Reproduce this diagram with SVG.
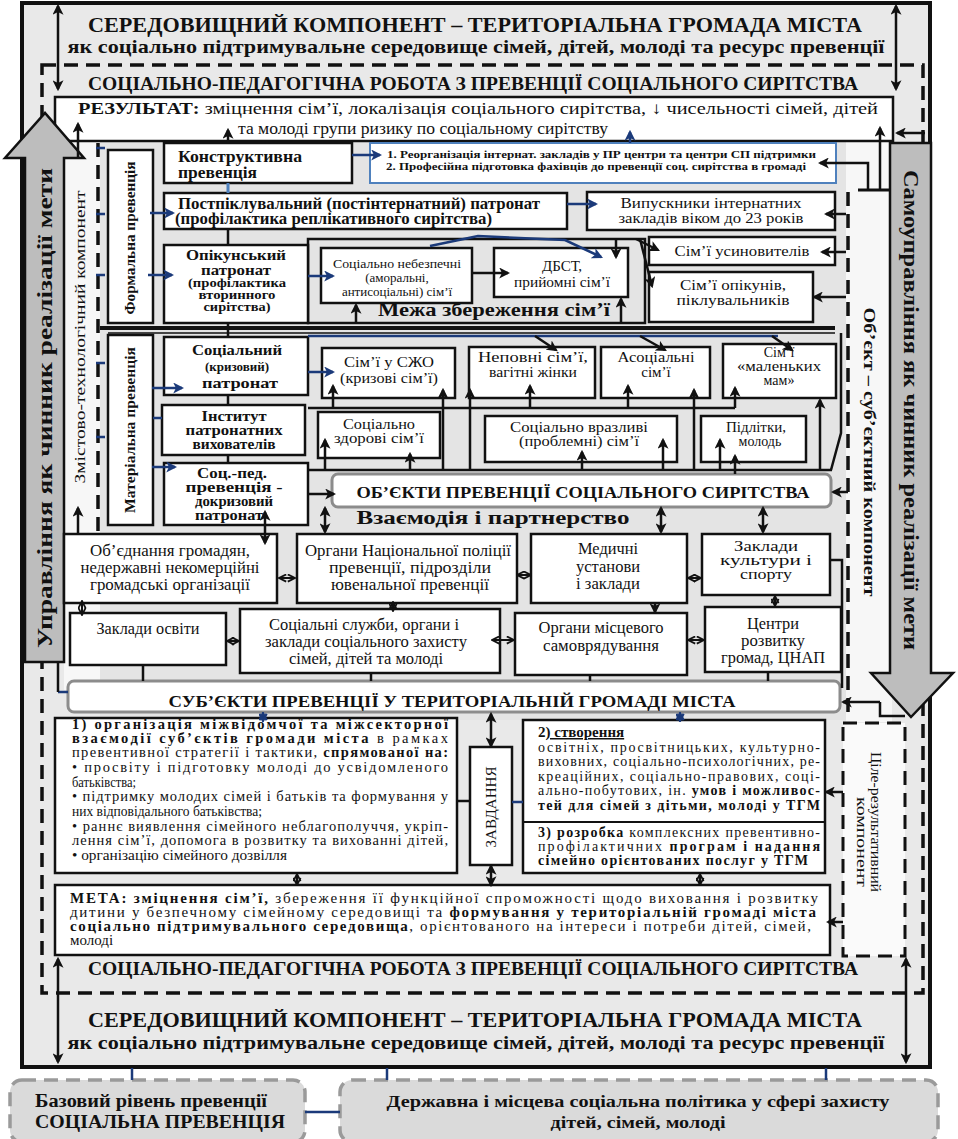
<svg xmlns="http://www.w3.org/2000/svg" width="958" height="1139" viewBox="0 0 958 1139" font-family="'Liberation Serif','Times New Roman','DejaVu Serif',serif">
<defs>
<style>
text{font-family:'Liberation Serif','Times New Roman','DejaVu Serif',serif}
.s{fill:#111}
.b{font-weight:bold}
.m{text-anchor:middle}
.bx{fill:#fff;stroke:#111;stroke-width:2.5}
.k{stroke:#111;stroke-width:2.5;fill:none}
.ka{stroke:#111;stroke-width:2.5;fill:none;marker-end:url(#ah)}
.kd{stroke:#111;stroke-width:2.5;fill:none;marker-start:url(#ah);marker-end:url(#ah)}
.ko{stroke:#111;stroke-width:2;fill:none;marker-start:url(#ao);marker-end:url(#ao)}
.no{stroke:#1b3a7a;stroke-width:2;fill:none;marker-start:url(#ano);marker-end:url(#ano)}
.nv{stroke:#1b3a7a;stroke-width:2.5;fill:none;marker-end:url(#an)}
.nl{stroke:#1b3a7a;stroke-width:2.5;fill:none}
.dash{stroke:#111;stroke-width:3.5;fill:none;stroke-dasharray:14 8}
.gr{fill:#bdbdbd;stroke:#111;stroke-width:2.5}
.rb{fill:#fff;stroke:#8c8c8c;stroke-width:3}
.gb{fill:#dadada;stroke:#9a9a9a;stroke-width:3.5;stroke-dasharray:14 8}
</style>
<marker id="ah" viewBox="0 0 10 10" refX="8" refY="5" markerWidth="4.4" markerHeight="4.4" orient="auto-start-reverse"><path d="M0,0 L10,5 L0,10 L2.5,5z" fill="#111"/></marker>
<marker id="an" viewBox="0 0 10 10" refX="8" refY="5" markerWidth="4.4" markerHeight="4.4" orient="auto-start-reverse"><path d="M0,0 L10,5 L0,10 L2.5,5z" fill="#1b3a7a"/></marker>
<marker id="ao" viewBox="0 0 10 10" refX="9" refY="5" markerWidth="4.5" markerHeight="4.5" orient="auto-start-reverse"><path d="M1,1 L9,5 L1,9" fill="none" stroke="#111" stroke-width="2"/></marker>
<marker id="ano" viewBox="0 0 10 10" refX="9" refY="5" markerWidth="4.5" markerHeight="4.5" orient="auto-start-reverse"><path d="M1,1 L9,5 L1,9" fill="none" stroke="#1b3a7a" stroke-width="2.5"/></marker>
</defs>
<rect width="958" height="1139" fill="#fff"/>

<g id="frame">
<rect x="22" y="3" width="908" height="1064" fill="#e9e9e9" stroke="#111" stroke-width="4"/>
<rect x="64" y="142" width="36" height="548" fill="#f7f7f7"/>
<rect x="100" y="142" width="746" height="578" fill="#e4e4e4"/>
<rect x="846" y="142" width="46" height="580" fill="#f7f7f7"/>
<rect x="42" y="65" width="881" height="928" class="dash"/>
</g>

<g id="env-top">
<text x="475" y="32" class="s b m" font-size="21" textLength="774" lengthAdjust="spacingAndGlyphs">СЕРЕДОВИЩНИЙ КОМПОНЕНТ – ТЕРИТОРІАЛЬНА ГРОМАДА МІСТА</text>
<text x="476" y="53" class="s b m" font-size="19" textLength="817" lengthAdjust="spacingAndGlyphs">як соціально підтримувальне середовище сімей, дітей, молоді та ресурс превенції</text>
<text x="473" y="90" class="s b m" font-size="18" textLength="770" lengthAdjust="spacingAndGlyphs">СОЦІАЛЬНО-ПЕДАГОГІЧНА РОБОТА З ПРЕВЕНЦІЇ СОЦІАЛЬНОГО СИРІТСТВА</text>
</g>

<g id="result">
<rect x="55" y="97" width="838" height="44" class="bx"/>
<text x="78" y="114" class="s" font-size="17" textLength="800" lengthAdjust="spacingAndGlyphs"><tspan class="b">РЕЗУЛЬТАТ:</tspan> зміцнення сім’ї, локалізація соціального сирітства, ↓ чисельності сімей, дітей</text>
<text x="238" y="134" class="s" font-size="17" textLength="370" lengthAdjust="spacingAndGlyphs">та молоді групи ризику по соціальному сирітству</text>
</g>

<g id="arrow-management">
<polygon points="25,158 5,158 45,113 84,158 64,158 64,662 25,662" class="gr"/>
<text transform="translate(52,408) rotate(-90)" class="s b m" font-size="20" textLength="480" lengthAdjust="spacingAndGlyphs">Управління як чинник реалізації мети</text>
</g>

<g id="arrow-selfgov">
<polygon points="890,143 931,143 931,673 953,673 911,717 871,673 890,673" class="gr"/>
<text transform="translate(904,410) rotate(90)" class="s b m" font-size="20" textLength="480" lengthAdjust="spacingAndGlyphs">Самоуправління як чинник реалізації мети</text>
</g>

<g id="content-component">
<text transform="translate(85,337) rotate(-90)" class="s m" font-size="15" textLength="293" lengthAdjust="spacingAndGlyphs">Змістово-технологічний компонент</text>
</g>

<g id="object-subject-component">
<text transform="translate(864,452) rotate(90)" class="s b m" font-size="17" textLength="289" lengthAdjust="spacingAndGlyphs">Об’єкт – суб’єктний компонент</text>
</g>

<g id="formal">
<rect x="108" y="150" width="45" height="173" class="bx"/>
<text transform="translate(135,238) rotate(-90)" class="s b m" font-size="14" textLength="153" lengthAdjust="spacingAndGlyphs">Формальна превенція</text>
</g>

<g id="material">
<rect x="108" y="335" width="45" height="190" class="bx"/>
<text transform="translate(135,430) rotate(-90)" class="s b m" font-size="14" textLength="166" lengthAdjust="spacingAndGlyphs">Матеріальна превенція</text>
</g>

<g id="constructive">
<rect x="164" y="143" width="188" height="40" class="bx"/>
<text x="178" y="162" class="s b" font-size="16" textLength="124" lengthAdjust="spacingAndGlyphs">Конструктивна</text>
<text x="178" y="178" class="s b" font-size="16" textLength="79" lengthAdjust="spacingAndGlyphs">превенція</text>
</g>

<g id="reorg">
<rect x="370" y="143" width="466" height="40" fill="#fff" stroke="#4f81bd" stroke-width="2"/>
<text x="387" y="158" class="s b" font-size="10" textLength="429" lengthAdjust="spacingAndGlyphs">1. Реорганізація інтернат. закладів у ПР центри та центри СП підтримки</text>
<text x="386" y="170" class="s b" font-size="10" textLength="420" lengthAdjust="spacingAndGlyphs">2. Професійна підготовка фахівців до превенції соц. сирітства в громаді</text>
</g>

<g id="postcare">
<rect x="164" y="193" width="403" height="36" class="bx"/>
<text x="178" y="209" class="s b" font-size="16" textLength="362" lengthAdjust="spacingAndGlyphs">Постпіклувальний (постінтернатний) патронат</text>
<text x="175" y="224" class="s b" font-size="16" textLength="317" lengthAdjust="spacingAndGlyphs">(профілактика реплікативного сирітства)</text>
</g>

<g id="graduates">
<rect x="587" y="192" width="248" height="38" class="bx"/>
<text x="711" y="208" class="s m" font-size="15" textLength="181" lengthAdjust="spacingAndGlyphs">Випускники інтернатних</text>
<text x="711" y="223" class="s m" font-size="15" textLength="185" lengthAdjust="spacingAndGlyphs">закладів віком до 23 років</text>
</g>

<g id="boundary">
<rect x="308" y="239" width="337" height="84" fill="none" stroke="#111" stroke-width="2.5"/>
<text x="494" y="316" class="s b m" font-size="18" textLength="232" lengthAdjust="spacingAndGlyphs">Межа збереження сім’ї</text>
</g>

<g id="guardian-patronage">
<rect x="164" y="245" width="144" height="78" class="bx"/>
<text x="236" y="260" class="s b m" font-size="15" textLength="100" lengthAdjust="spacingAndGlyphs">Опікунський</text>
<text x="236" y="275" class="s b m" font-size="15" textLength="70" lengthAdjust="spacingAndGlyphs">патронат</text>
<text x="237" y="287" class="s b m" font-size="12" textLength="98" lengthAdjust="spacingAndGlyphs">(профілактика</text>
<text x="237" y="299" class="s b m" font-size="12" textLength="77" lengthAdjust="spacingAndGlyphs">вторинного</text>
<text x="237" y="311" class="s b m" font-size="12" textLength="67" lengthAdjust="spacingAndGlyphs">сирітства)</text>
</g>

<g id="dangerous">
<rect x="321" y="248" width="151" height="55" class="bx"/>
<text x="397" y="268" class="s m" font-size="13" textLength="128" lengthAdjust="spacingAndGlyphs">Соціально небезпечні</text>
<text x="397" y="282" class="s m" font-size="13">(аморальні,</text>
<text x="397" y="296" class="s m" font-size="13">антисоціальні) сім’ї</text>
</g>

<g id="dbst">
<rect x="494" y="248" width="134" height="49" class="bx"/>
<text x="562" y="271" class="s m" font-size="15">ДБСТ,</text>
<text x="562" y="287" class="s m" font-size="15" textLength="96" lengthAdjust="spacingAndGlyphs">прийомні сім’ї</text>
</g>

<g id="adoptive">
<rect x="649" y="237" width="186" height="28" class="bx"/>
<text x="742" y="256" class="s m" font-size="15" textLength="135" lengthAdjust="spacingAndGlyphs">Сім’ї усиновителів</text>
</g>

<g id="guardians">
<rect x="649" y="272" width="164" height="50" class="bx"/>
<text x="733" y="290" class="s m" font-size="15" textLength="106" lengthAdjust="spacingAndGlyphs">Сім’ї опікунів,</text>
<text x="733" y="305" class="s m" font-size="15" textLength="113" lengthAdjust="spacingAndGlyphs">піклувальників</text>
</g>

<g id="crisis-patronage">
<rect x="164" y="337" width="144" height="58" class="bx"/>
<text x="237" y="355" class="s b m" font-size="15" textLength="90" lengthAdjust="spacingAndGlyphs">Соціальний</text>
<text x="237" y="371" class="s b m" font-size="13">(кризовий)</text>
<text x="240" y="388" class="s b m" font-size="15" textLength="76" lengthAdjust="spacingAndGlyphs">патронат</text>
</g>

<g id="foster-educators">
<rect x="162" y="405" width="143" height="50" class="bx"/>
<text x="234" y="421" class="s b m" font-size="14" textLength="65" lengthAdjust="spacingAndGlyphs">Інститут</text>
<text x="234" y="435" class="s b m" font-size="14" textLength="97" lengthAdjust="spacingAndGlyphs">патронатних</text>
<text x="234" y="449" class="s b m" font-size="14" textLength="83" lengthAdjust="spacingAndGlyphs">вихователів</text>
</g>

<g id="precrisis">
<rect x="164" y="463" width="144" height="62" class="bx"/>
<text x="232" y="478" class="s b m" font-size="14" textLength="70" lengthAdjust="spacingAndGlyphs">Соц.-пед.</text>
<text x="234" y="492" class="s b m" font-size="14" textLength="97" lengthAdjust="spacingAndGlyphs">превенція -</text>
<text x="234" y="506" class="s b m" font-size="14" textLength="78" lengthAdjust="spacingAndGlyphs">докризовий</text>
<text x="229" y="520" class="s b m" font-size="14" textLength="68" lengthAdjust="spacingAndGlyphs">патронат</text>
</g>

<g id="szho">
<rect x="322" y="348" width="133" height="50" class="bx"/>
<text x="389" y="367" class="s m" font-size="15" textLength="90" lengthAdjust="spacingAndGlyphs">Сім’ї у СЖО</text>
<text x="389" y="383" class="s m" font-size="15" textLength="98" lengthAdjust="spacingAndGlyphs">(кризові сім’ї)</text>
</g>

<g id="incomplete">
<rect x="469" y="347" width="126" height="51" class="bx"/>
<text x="533" y="362" class="s m" font-size="15" textLength="110" lengthAdjust="spacingAndGlyphs">Неповні сім’ї,</text>
<text x="533" y="377" class="s m" font-size="15" textLength="88" lengthAdjust="spacingAndGlyphs">вагітні жінки</text>
</g>

<g id="asocial">
<rect x="601" y="347" width="109" height="51" class="bx"/>
<text x="656" y="362" class="s m" font-size="15" textLength="77" lengthAdjust="spacingAndGlyphs">Асоціальні</text>
<text x="656" y="377" class="s m" font-size="15">сім’ї</text>
</g>

<g id="young-moms">
<rect x="723" y="344" width="113" height="54" class="bx"/>
<text x="779" y="357" class="s m" font-size="14">Сім’ї</text>
<text x="779" y="371" class="s m" font-size="14" textLength="84" lengthAdjust="spacingAndGlyphs">«маленьких</text>
<text x="779" y="385" class="s m" font-size="14">мам»</text>
</g>

<g id="healthy">
<rect x="318" y="412" width="122" height="46" class="bx"/>
<text x="379" y="429" class="s m" font-size="14" textLength="72" lengthAdjust="spacingAndGlyphs">Соціально</text>
<text x="379" y="443" class="s m" font-size="14" textLength="90" lengthAdjust="spacingAndGlyphs">здорові сім’ї</text>
</g>

<g id="vulnerable">
<rect x="485" y="416" width="192" height="46" class="bx"/>
<text x="579" y="432" class="s m" font-size="14" textLength="138" lengthAdjust="spacingAndGlyphs">Соціально вразливі</text>
<text x="579" y="446" class="s m" font-size="14" textLength="120" lengthAdjust="spacingAndGlyphs">(проблемні) сім’ї</text>
</g>

<g id="teens">
<rect x="701" y="416" width="105" height="46" class="bx"/>
<text x="756" y="432" class="s m" font-size="14" textLength="60" lengthAdjust="spacingAndGlyphs">Підлітки,</text>
<text x="760" y="446" class="s m" font-size="14">молодь</text>
</g>

<g id="objects">
<rect x="332" y="474" width="499" height="33" rx="6" class="rb"/>
<text x="583" y="498" class="s b m" font-size="16" textLength="453" lengthAdjust="spacingAndGlyphs">ОБ’ЄКТИ ПРЕВЕНЦІЇ СОЦІАЛЬНОГО СИРІТСТВА</text>
</g>

<g id="interaction-label">
<text x="493" y="524" class="s b m" font-size="18" textLength="273" lengthAdjust="spacingAndGlyphs">Взаємодія і партнерство</text>
</g>

<g id="citizens">
<rect x="64" y="534" width="213" height="69" class="bx"/>
<text x="170" y="556" class="s m" font-size="16" textLength="160" lengthAdjust="spacingAndGlyphs">Об’єднання громадян,</text>
<text x="170" y="573" class="s m" font-size="16" textLength="179" lengthAdjust="spacingAndGlyphs">недержавні некомерційні</text>
<text x="170" y="590" class="s m" font-size="16" textLength="160" lengthAdjust="spacingAndGlyphs">громадські організації</text>
</g>

<g id="police">
<rect x="297" y="534" width="220" height="69" class="bx"/>
<text x="408" y="556" class="s m" font-size="16" textLength="206" lengthAdjust="spacingAndGlyphs">Органи Національної поліції</text>
<text x="410" y="573" class="s m" font-size="16" textLength="162" lengthAdjust="spacingAndGlyphs">превенції, підрозділи</text>
<text x="410" y="590" class="s m" font-size="16" textLength="158" lengthAdjust="spacingAndGlyphs">ювенальної превенції</text>
</g>

<g id="medical">
<rect x="531" y="534" width="156" height="69" class="bx"/>
<text x="608" y="554" class="s m" font-size="16" textLength="60" lengthAdjust="spacingAndGlyphs">Медичні</text>
<text x="608" y="572" class="s m" font-size="16" textLength="64" lengthAdjust="spacingAndGlyphs">установи</text>
<text x="608" y="589" class="s m" font-size="16" textLength="64" lengthAdjust="spacingAndGlyphs">і заклади</text>
</g>

<g id="culture">
<rect x="702" y="534" width="128" height="61" class="bx"/>
<text x="766" y="551" class="s m" font-size="15" textLength="64" lengthAdjust="spacingAndGlyphs">Заклади</text>
<text x="766" y="565" class="s m" font-size="15" textLength="92" lengthAdjust="spacingAndGlyphs">культури і</text>
<text x="766" y="579" class="s m" font-size="15" textLength="52" lengthAdjust="spacingAndGlyphs">спорту</text>
</g>

<g id="education">
<rect x="70" y="613" width="156" height="52" class="bx"/>
<text x="148" y="634" class="s m" font-size="16" textLength="103" lengthAdjust="spacingAndGlyphs">Заклади освіти</text>
</g>

<g id="social-services">
<rect x="240" y="609" width="260" height="64" class="bx"/>
<text x="364" y="630" class="s m" font-size="16" textLength="190" lengthAdjust="spacingAndGlyphs">Соціальні служби, органи і</text>
<text x="366" y="647" class="s m" font-size="16" textLength="202" lengthAdjust="spacingAndGlyphs">заклади соціального захисту</text>
<text x="366" y="664" class="s m" font-size="16" textLength="154" lengthAdjust="spacingAndGlyphs">сімей, дітей та молоді</text>
</g>

<g id="local-gov">
<rect x="515" y="613" width="172" height="62" class="bx"/>
<text x="601" y="633" class="s m" font-size="16" textLength="125" lengthAdjust="spacingAndGlyphs">Органи місцевого</text>
<text x="601" y="651" class="s m" font-size="16" textLength="116" lengthAdjust="spacingAndGlyphs">самоврядування</text>
</g>

<g id="centers">
<rect x="705" y="607" width="136" height="65" class="bx"/>
<text x="773" y="629" class="s m" font-size="16" textLength="52" lengthAdjust="spacingAndGlyphs">Центри</text>
<text x="773" y="646" class="s m" font-size="16" textLength="64" lengthAdjust="spacingAndGlyphs">розвитку</text>
<text x="773" y="663" class="s m" font-size="16" textLength="104" lengthAdjust="spacingAndGlyphs">громад, ЦНАП</text>
</g>

<g id="subjects">
<rect x="68" y="681" width="772" height="31" rx="6" class="rb"/>
<text x="452" y="707" class="s b m" font-size="17" textLength="567" lengthAdjust="spacingAndGlyphs">СУБ’ЄКТИ ПРЕВЕНЦІЇ У ТЕРИТОРІАЛЬНІЙ ГРОМАДІ МІСТА</text>
</g>

<g id="task-1">
<rect x="55" y="718" width="402" height="155" class="bx"/>
<g class="s" font-size="14.5">
<text x="72" y="729" class="b" textLength="376" lengthAdjust="spacing">1) організація міжвідомчої та міжсекторної</text>
<text x="72" y="743" textLength="376" lengthAdjust="spacing"><tspan class="b">взаємодії суб’єктів громади міста</tspan> в рамках</text>
<text x="72" y="757" textLength="376" lengthAdjust="spacing">превентивної стратегії і тактики, <tspan class="b">спрямованої на:</tspan></text>
<text x="72" y="772" textLength="376" lengthAdjust="spacing">• просвіту і підготовку молоді до усвідомленого</text>
<text x="72" y="787" textLength="64" lengthAdjust="spacingAndGlyphs">батьківства;</text>
<text x="72" y="801" textLength="376" lengthAdjust="spacing">• підтримку молодих сімей і батьків та формування у</text>
<text x="72" y="816" textLength="190" lengthAdjust="spacingAndGlyphs">них відповідального батьківства;</text>
<text x="72" y="831" textLength="376" lengthAdjust="spacing">• раннє виявлення сімейного неблагополуччя, укріп-</text>
<text x="72" y="845" textLength="376" lengthAdjust="spacing">лення сім’ї, допомога в розвитку та вихованні дітей,</text>
<text x="72" y="860" textLength="215" lengthAdjust="spacingAndGlyphs">• організацію сімейного дозвілля</text>
</g>
</g>

<g id="tasks-label">
<rect x="470" y="747" width="42" height="118" class="bx"/>
<text transform="translate(496,807) rotate(-90)" class="s m" font-size="15" textLength="81" lengthAdjust="spacingAndGlyphs">ЗАВДАННЯ</text>
</g>

<g id="task-2-3">
<rect x="523" y="720" width="302" height="153" class="bx"/>
<line x1="523" y1="822" x2="825" y2="822" stroke="#111" stroke-width="2"/>
<g class="s" font-size="14">
<text x="538" y="737" class="b" font-size="15">2<tspan text-decoration="underline">) створення</tspan></text>
<text x="538" y="752" textLength="282" lengthAdjust="spacing">освітніх, просвітницьких, культурно-</text>
<text x="538" y="766" textLength="282" lengthAdjust="spacing">виховних, соціально-психологічних, ре-</text>
<text x="538" y="781" textLength="282" lengthAdjust="spacing">креаційних, соціально-правових, соці-</text>
<text x="538" y="795" textLength="282" lengthAdjust="spacing">ально-побутових, ін. <tspan class="b">умов і можливос-</tspan></text>
<text x="538" y="810" class="b" textLength="282" lengthAdjust="spacing">тей для сімей з дітьми, молоді у ТГМ</text>
<text x="538" y="837" textLength="282" lengthAdjust="spacing"><tspan class="b">3) розробка</tspan> комплексних превентивно-</text>
<text x="538" y="851" textLength="282" lengthAdjust="spacing">профілактичних <tspan class="b">програм і надання</tspan></text>
<text x="538" y="865" class="b" textLength="270" lengthAdjust="spacing">сімейно орієнтованих послуг у ТГМ</text>
</g>
</g>

<g id="goal-result-component">
<rect x="843" y="723" width="62" height="233" fill="#fafafa" stroke="#111" stroke-width="3" stroke-dasharray="14 8"/>
<text transform="translate(871,822) rotate(90)" class="s m" font-size="15" textLength="140" lengthAdjust="spacingAndGlyphs">Ціле-результативний</text>
<text transform="translate(857,842) rotate(90)" class="s m" font-size="15" textLength="90" lengthAdjust="spacingAndGlyphs">компонент</text>
</g>

<g id="goal">
<rect x="55" y="885" width="775" height="70" class="bx"/>
<g class="s" font-size="15">
<text x="70" y="903" textLength="748" lengthAdjust="spacing"><tspan class="b">МЕТА: зміцнення сім’ї,</tspan> збереження її функційної спроможності щодо виховання і розвитку</text>
<text x="70" y="917" textLength="746" lengthAdjust="spacing">дитини у безпечному сімейному середовищі та <tspan class="b">формування у територіальній громаді міста</tspan></text>
<text x="70" y="931" textLength="741" lengthAdjust="spacing"><tspan class="b">соціально підтримувального середовища</tspan>, орієнтованого на інтереси і потреби дітей, сімей,</text>
<text x="70" y="945">молоді</text>
</g>
</g>

<g id="env-bottom">
<text x="473" y="975" class="s b m" font-size="18" textLength="770" lengthAdjust="spacingAndGlyphs">СОЦІАЛЬНО-ПЕДАГОГІЧНА РОБОТА З ПРЕВЕНЦІЇ СОЦІАЛЬНОГО СИРІТСТВА</text>
<text x="475" y="1027" class="s b m" font-size="21" textLength="774" lengthAdjust="spacingAndGlyphs">СЕРЕДОВИЩНИЙ КОМПОНЕНТ – ТЕРИТОРІАЛЬНА ГРОМАДА МІСТА</text>
<text x="476" y="1049" class="s b m" font-size="19" textLength="817" lengthAdjust="spacingAndGlyphs">як соціально підтримувальне середовище сімей, дітей, молоді та ресурс превенції</text>
</g>

<g id="basic-level">
<rect x="10" y="1080" width="295" height="62" rx="12" class="gb"/>
<text x="151" y="1107" class="s b m" font-size="18" textLength="232" lengthAdjust="spacingAndGlyphs">Базовий рівень превенції</text>
<text x="160" y="1128" class="s b m" font-size="18" textLength="250" lengthAdjust="spacingAndGlyphs">СОЦІАЛЬНА ПРЕВЕНЦІЯ</text>
</g>

<g id="policy">
<rect x="340" y="1080" width="598" height="62" rx="12" class="gb"/>
<text x="638" y="1107" class="s b m" font-size="17" textLength="503" lengthAdjust="spacingAndGlyphs">Державна і місцева соціальна політика у сфері захисту</text>
<text x="638" y="1128" class="s b m" font-size="17" textLength="175" lengthAdjust="spacingAndGlyphs">дітей, сімей, молоді</text>
</g>

<g id="connectors">
<line x1="58" y1="6" x2="58" y2="89" class="kd"/>
<line x1="896" y1="6" x2="896" y2="89" class="kd"/>
<line x1="58" y1="959" x2="58" y2="1062" class="kd"/>
<line x1="906" y1="959" x2="906" y2="1062" class="kd"/>
<line x1="78" y1="158" x2="78" y2="124" class="ka"/>
<line x1="228" y1="143" x2="228" y2="130" class="ka"/>
<line x1="630" y1="143" x2="630" y2="132" class="nv"/>
<line x1="880" y1="190" x2="880" y2="128" class="ka"/>
<line x1="925" y1="133" x2="897" y2="133" class="ka"/>
<line x1="858" y1="190" x2="890" y2="190" stroke="#111" stroke-width="3"/>
<polyline points="868,190 868,163 820,163" class="ka"/>
<line x1="98" y1="143" x2="98" y2="533" class="dash"/>
<g class="nl" stroke-width="3">
<line x1="96" y1="148" x2="105" y2="148"/>
<line x1="96" y1="214" x2="105" y2="214"/>
<line x1="96" y1="275" x2="105" y2="275"/>
<line x1="96" y1="363" x2="105" y2="363"/>
<line x1="96" y1="437" x2="105" y2="437"/>
<line x1="153" y1="418" x2="162" y2="418"/>
<line x1="58" y1="692" x2="68" y2="692"/>
</g>
<line x1="58" y1="662" x2="58" y2="692" class="k"/>
<line x1="78" y1="534" x2="78" y2="508" class="ka"/>
<line x1="150" y1="213" x2="173" y2="213" class="nv"/>
<line x1="148" y1="275" x2="172" y2="275" class="nv"/>
<line x1="152" y1="388" x2="182" y2="388" class="nv"/>
<line x1="152" y1="467" x2="175" y2="467" class="nv"/>
<line x1="228" y1="183" x2="228" y2="193" stroke="#4f81bd" stroke-width="3"/>
<line x1="228" y1="229" x2="228" y2="245" class="k" stroke-width="4"/>
<line x1="228" y1="323" x2="228" y2="337" class="k" stroke-width="4"/>
<line x1="228" y1="395" x2="228" y2="405" class="k" stroke-width="4"/>
<line x1="228" y1="455" x2="228" y2="463" class="k" stroke-width="4"/>
<line x1="352" y1="155" x2="380" y2="155" class="nv"/>
<line x1="567" y1="204" x2="596" y2="204" class="nv"/>
<line x1="308" y1="276" x2="333" y2="276" class="nv"/>
<line x1="472" y1="273" x2="508" y2="273" class="ka"/>
<polyline points="430,246 478,236 565,240 601,257" class="nv"/>
<line x1="616" y1="239" x2="616" y2="257" class="ka"/>
<line x1="636" y1="239" x2="658" y2="250" class="ka"/>
<line x1="640" y1="239" x2="652" y2="286" class="ka"/>
<line x1="356" y1="323" x2="356" y2="305" class="ka"/>
<line x1="621" y1="323" x2="621" y2="299" class="ka"/>
<line x1="846" y1="214" x2="826" y2="214" class="ka"/>
<line x1="846" y1="252" x2="822" y2="252" class="ka"/>
<line x1="846" y1="297" x2="814" y2="297" class="ka"/>
<line x1="848" y1="192" x2="848" y2="720" class="dash"/>
<line x1="100" y1="328" x2="835" y2="328" stroke="#111" stroke-width="4"/>
<line x1="108" y1="333" x2="835" y2="333" stroke="#111" stroke-width="1.5"/>
<line x1="308" y1="336" x2="778" y2="336" class="nl" stroke-width="2"/>
<line x1="535" y1="336" x2="556" y2="350" class="ka"/>
<line x1="640" y1="336" x2="665" y2="350" class="ka"/>
<line x1="772" y1="336" x2="792" y2="350" class="ka"/>
<polyline points="841,333 841,433 831,470" class="k"/>
<line x1="308" y1="372" x2="333" y2="372" class="nv"/>
<line x1="308" y1="408" x2="735" y2="408" class="k"/>
<line x1="333" y1="408" x2="333" y2="386" class="ka"/>
<line x1="530" y1="408" x2="530" y2="386" class="ka"/>
<line x1="628" y1="408" x2="628" y2="386" class="ka"/>
<line x1="735" y1="408" x2="735" y2="388" class="ka"/>
<line x1="308" y1="470" x2="832" y2="470" class="k"/>
<line x1="325" y1="470" x2="325" y2="440" class="ka"/>
<line x1="410" y1="470" x2="410" y2="454" class="ka"/>
<line x1="443" y1="470" x2="443" y2="390" class="ka"/>
<line x1="470" y1="470" x2="470" y2="390" class="ka"/>
<line x1="582" y1="470" x2="582" y2="452" class="ka"/>
<line x1="663" y1="470" x2="663" y2="440" class="ka"/>
<line x1="694" y1="470" x2="694" y2="390" class="ka"/>
<line x1="720" y1="470" x2="720" y2="440" class="ka"/>
<line x1="735" y1="474" x2="735" y2="456" class="ka"/>
<line x1="820" y1="470" x2="820" y2="400" class="ka"/>
<line x1="308" y1="494" x2="334" y2="494" class="ka"/>
<line x1="848" y1="492" x2="833" y2="492" class="ka"/>
<line x1="265" y1="512" x2="265" y2="543" class="kd"/>
<line x1="325" y1="508" x2="325" y2="532" class="kd"/>
<line x1="661" y1="508" x2="661" y2="532" class="kd"/>
<line x1="763" y1="508" x2="763" y2="532" class="kd"/>
<line x1="279" y1="578" x2="295" y2="578" class="ko"/>
<line x1="82" y1="601" x2="82" y2="615" class="ko"/>
<line x1="393" y1="602" x2="393" y2="611" class="ko"/>
<line x1="517" y1="575" x2="531" y2="575" class="ko"/>
<line x1="688" y1="578" x2="701" y2="578" class="ko"/>
<line x1="655" y1="603" x2="655" y2="612" class="ka" stroke-width="2"/>
<line x1="775" y1="596" x2="775" y2="606" class="ko"/>
<line x1="227" y1="641" x2="239" y2="641" class="ko"/>
<line x1="492" y1="640" x2="514" y2="640" class="ko"/>
<line x1="688" y1="640" x2="704" y2="640" class="ko"/>
<polyline points="830,560 842,560 842,688" class="k"/>
<line x1="143" y1="665" x2="143" y2="681" class="k" stroke-width="3"/>
<line x1="371" y1="673" x2="371" y2="681" class="k" stroke-width="3"/>
<line x1="590" y1="675" x2="590" y2="681" class="k" stroke-width="3"/>
<line x1="768" y1="672" x2="768" y2="681" class="k" stroke-width="3"/>
<line x1="880" y1="702" x2="843" y2="702" class="ka"/>
<polyline points="880,702 880,716 905,716" class="k"/>
<line x1="263" y1="713" x2="263" y2="721" class="no"/>
<line x1="680" y1="713" x2="680" y2="721" class="no"/>
<line x1="491" y1="714" x2="491" y2="746" class="kd"/>
<line x1="491" y1="866" x2="491" y2="885" class="kd"/>
<line x1="457" y1="801" x2="470" y2="801" class="k"/>
<line x1="512" y1="802" x2="523" y2="802" class="nl"/>
<line x1="297" y1="874" x2="297" y2="885" class="ko"/>
<line x1="700" y1="874" x2="700" y2="885" class="ko"/>
<line x1="843" y1="792" x2="826" y2="792" class="ka"/>
<line x1="843" y1="922" x2="828" y2="922" class="ka"/>
<g class="nl" stroke-width="5">
<line x1="132" y1="1068" x2="132" y2="1080"/>
<line x1="387" y1="1068" x2="387" y2="1080"/>
<line x1="826" y1="1068" x2="826" y2="1080"/>
<line x1="305" y1="1112" x2="340" y2="1112"/>
</g>
</g>
</svg>
